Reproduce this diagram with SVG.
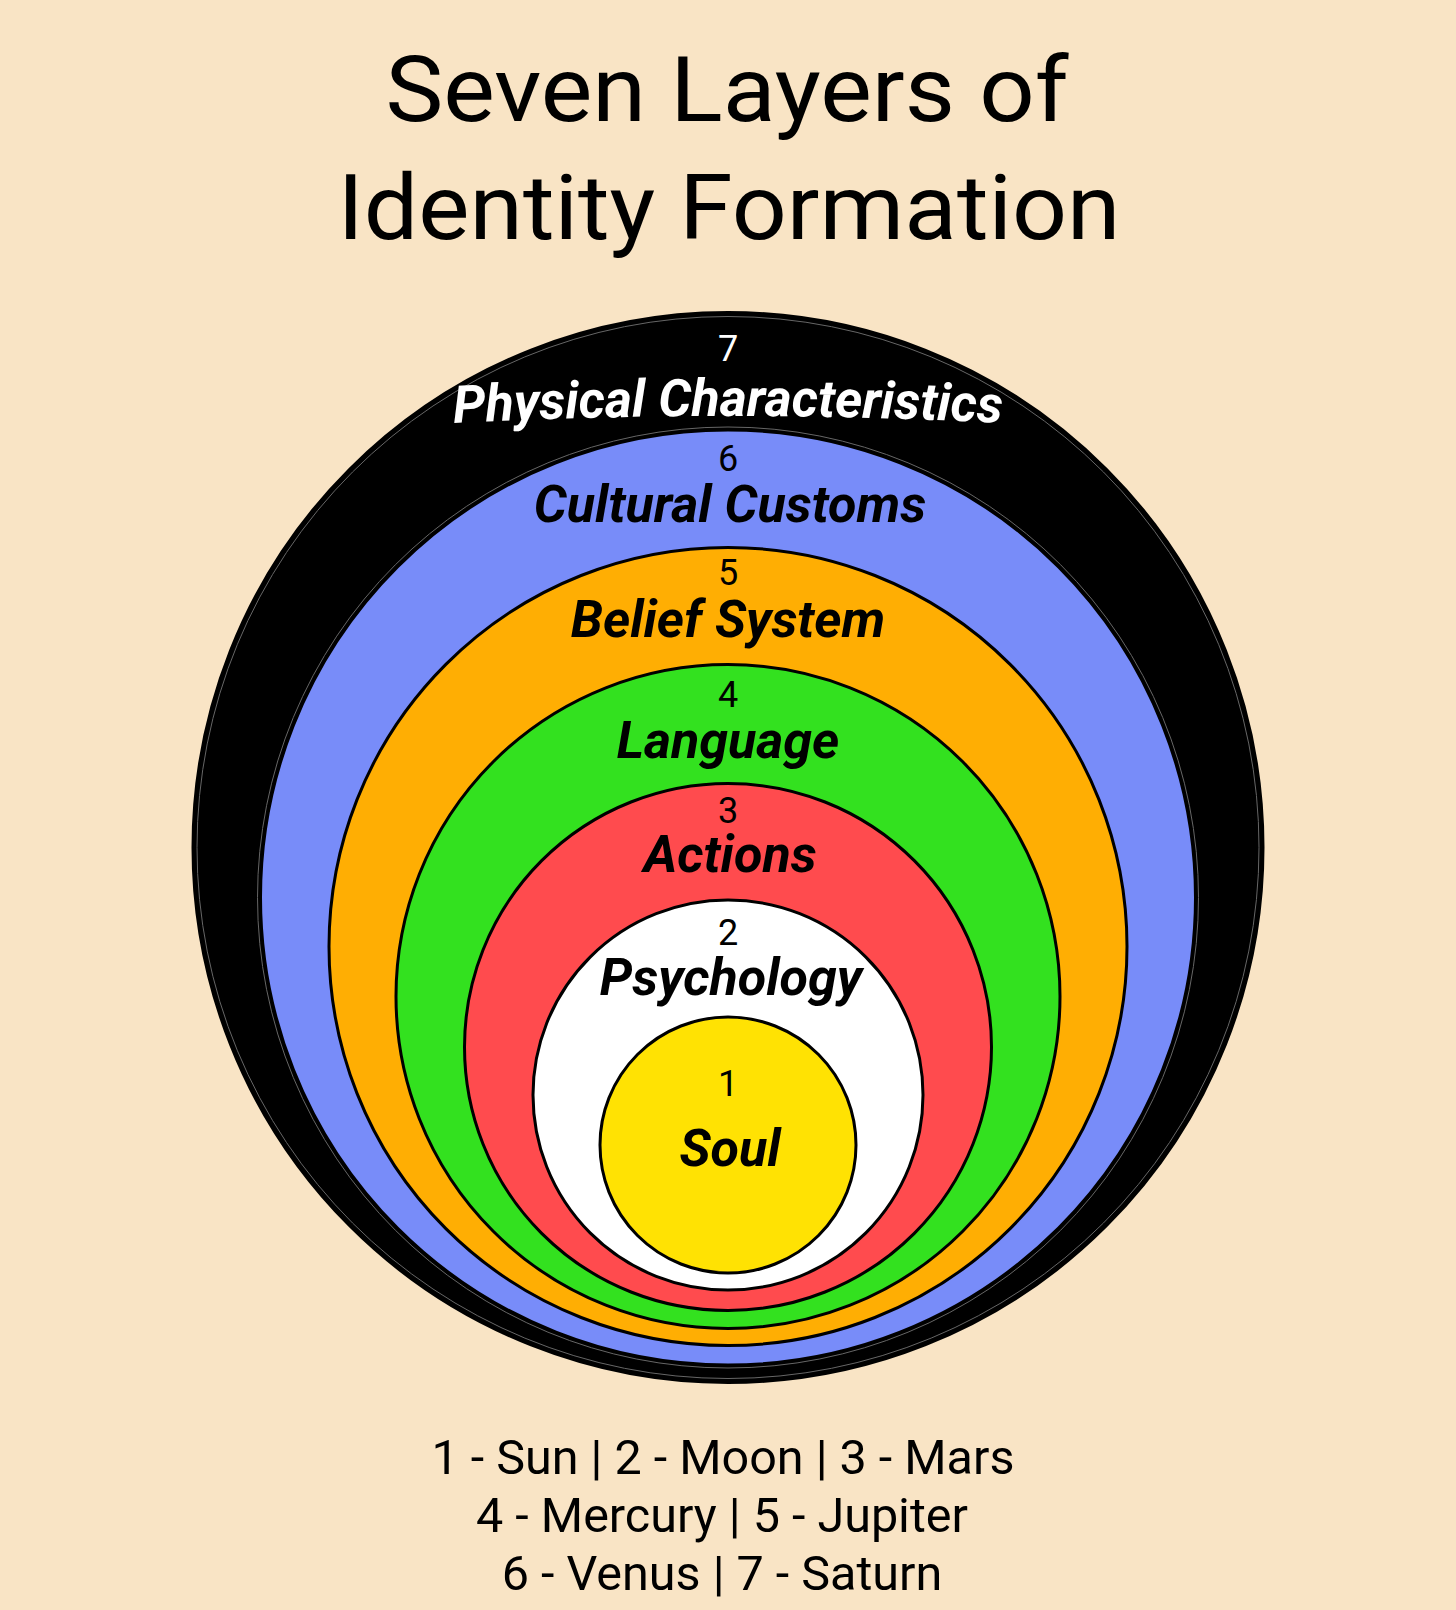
<svg xmlns="http://www.w3.org/2000/svg" xmlns:xlink="http://www.w3.org/1999/xlink" width="1456" height="1610" viewBox="0 0 1456 1610">
<style>
.title{font-family:Roboto,"Liberation Sans",sans-serif;font-size:91px;fill:#000;text-anchor:middle}
.legend{font-family:Roboto,"Liberation Sans",sans-serif;font-size:48.5px;fill:#000;text-anchor:middle}
.num{font-family:Roboto,"Liberation Sans",sans-serif;font-size:36px;fill:#000;text-anchor:middle}
.lbl{font-family:Roboto,"Liberation Sans",sans-serif;font-size:52px;font-weight:700;font-style:italic;fill:#000;text-anchor:middle}
.ring{stroke:#000;stroke-width:3}
.w{fill:#fff}
</style>
<defs>
<path id="arc7" d="M 455 423 A 5327 5327 0 0 1 1001 423"/>
</defs>
<rect width="1456" height="1610" fill="#F9E4C5"/>
<g id="title">
<text class="title" x="727" y="121" textLength="683" lengthAdjust="spacingAndGlyphs">Seven Layers of</text>
<text class="title" x="729" y="239" textLength="783" lengthAdjust="spacingAndGlyphs">Identity Formation</text>
</g>
<g id="layer7">
<circle class="ring" cx="728" cy="847.5" r="535" fill="#000"/>
<circle cx="728" cy="847.5" r="531" fill="none" stroke="#666" stroke-width="1"/>
<text class="num w" x="728" y="361">7</text>
<text class="lbl w" font-size="49.5"><textPath xlink:href="#arc7" href="#arc7" startOffset="50%">Physical Characteristics</textPath></text>
</g>
<g id="layer6">
<circle cx="728" cy="897.5" r="470.5" fill="none" stroke="#666" stroke-width="1"/>
<circle class="ring" cx="728" cy="897.5" r="467.5" fill="#788CF9"/>
<text class="num" x="728" y="471">6</text>
<text class="lbl" x="730" y="522">Cultural Customs</text>
</g>
<g id="layer5">
<circle class="ring" cx="728" cy="946.5" r="399" fill="#FFAE03"/>
<text class="num" x="728" y="585">5</text>
<text class="lbl" x="728" y="637">Belief System</text>
</g>
<g id="layer4">
<circle class="ring" cx="728" cy="996.5" r="332" fill="#33E11F"/>
<text class="num" x="728" y="707">4</text>
<text class="lbl" x="728" y="758">Language</text>
</g>
<g id="layer3">
<circle class="ring" cx="728" cy="1047" r="263.5" fill="#FF4B4E"/>
<text class="num" x="728" y="823">3</text>
<text class="lbl" x="730" y="872">Actions</text>
</g>
<g id="layer2">
<circle class="ring" cx="728" cy="1095" r="195" fill="#FFFFFF"/>
<text class="num" x="728" y="945">2</text>
<text class="lbl" x="731" y="995">Psychology</text>
</g>
<g id="layer1">
<circle class="ring" cx="728" cy="1145" r="128" fill="#FFE203"/>
<text class="num" x="728" y="1096">1</text>
<text class="lbl" x="730" y="1166">Soul</text>
</g>
<g id="connectors"/>
<g id="legend">
<text class="legend" x="723" y="1474">1 - Sun | 2 - Moon | 3 - Mars</text>
<text class="legend" x="722" y="1532">4 - Mercury | 5 - Jupiter</text>
<text class="legend" x="722" y="1590">6 - Venus | 7 - Saturn</text>
</g>
</svg>
